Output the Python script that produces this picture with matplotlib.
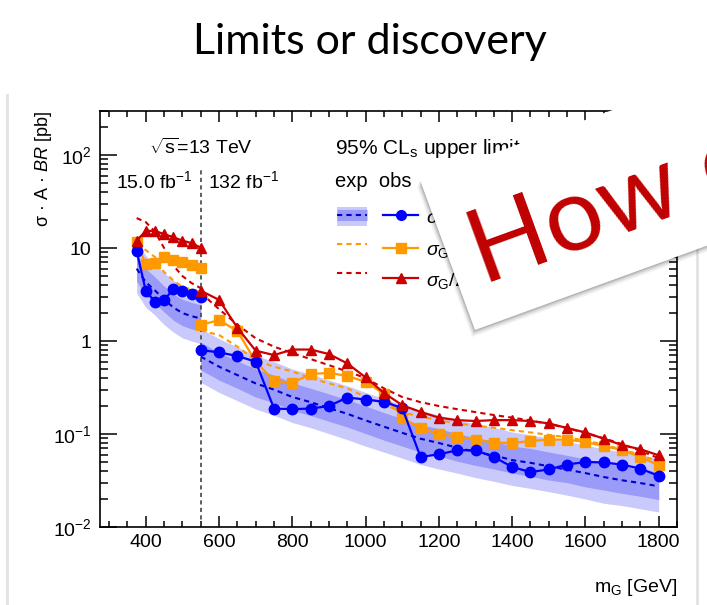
import matplotlib
matplotlib.use('Agg')
import matplotlib.pyplot as plt
from matplotlib.patches import Polygon, Patch
from matplotlib.lines import Line2D
from matplotlib.legend_handler import HandlerTuple
from matplotlib.ticker import FixedLocator, MultipleLocator, LogLocator, FuncFormatter

plt.rcParams['font.family'] = ['Liberation Sans', 'DejaVu Sans']
plt.rcParams['mathtext.fontset'] = 'custom'
plt.rcParams['mathtext.rm'] = 'Liberation Sans'
plt.rcParams['mathtext.it'] = 'Liberation Sans:italic'
plt.rcParams['mathtext.bf'] = 'Liberation Sans:bold'

# ---- data: 15.0 fb-1 region ----
mass_15 = [375, 400, 425, 450, 475, 500, 525, 550]
blue_obs_15 = [9.3, 3.46, 2.65, 2.77, 3.6, 3.46, 3.2, 3.0]
blue_exp_15 = [6.0, 4.3, 3.5, 2.8, 2.3, 2.0, 1.85, 1.75]
band_m2s_15 = [3.3, 2.3, 1.9, 1.5, 1.25, 1.08, 1.0, 0.94]
band_m1s_15 = [4.4, 3.1, 2.55, 2.05, 1.68, 1.46, 1.35, 1.28]
band_p1s_15 = [8.4, 6.0, 4.9, 3.9, 3.2, 2.8, 2.6, 2.45]
band_p2s_15 = [11.5, 8.3, 6.8, 5.4, 4.5, 3.9, 3.6, 3.4]
orange_obs_15 = [11.7, 6.7, 6.9, 8.0, 7.5, 7.05, 6.6, 6.1]
orange_exp_15 = [11.0, 9.5, 8.0, 5.5, 4.5, 3.8, 3.6, 3.4]
red_obs_15 = [12.0, 15.3, 15.3, 14.1, 13.1, 12.0, 11.3, 10.1]
red_exp_15 = [21.0, 19.0, 15.0, 10.0, 6.5, 5.0, 4.2, 3.7]

# ---- data: 132 fb-1 region ----
mass_132 = [550, 600, 650, 700, 750, 800, 850, 900, 950, 1000, 1050, 1100, 1150,
            1200, 1250, 1300, 1350, 1400, 1450, 1500, 1550, 1600, 1650, 1700, 1750, 1800]
blue_obs_132 = [0.80, 0.755, 0.69, 0.60, 0.188, 0.185, 0.188, 0.20, 0.247, 0.235, 0.222, 0.19,
                0.0567, 0.0605, 0.0669, 0.0669, 0.0567, 0.0442, 0.039, 0.0416, 0.047, 0.050,
                0.0495, 0.0468, 0.0425, 0.0355]
blue_exp_132 = [0.68, 0.53, 0.43, 0.35, 0.30, 0.25, 0.22, 0.19, 0.165, 0.14, 0.12, 0.103,
                0.089, 0.080, 0.0714, 0.064, 0.059, 0.0524, 0.049, 0.045, 0.0414, 0.038,
                0.0345, 0.0318, 0.0297, 0.0274]
band_m2s_132 = [0.36, 0.28, 0.228, 0.186, 0.159, 0.133, 0.117, 0.101, 0.087, 0.074, 0.064, 0.055,
                0.047, 0.042, 0.038, 0.034, 0.031, 0.028, 0.026, 0.024, 0.022, 0.020, 0.018,
                0.017, 0.0157, 0.0145]
band_m1s_132 = [0.49, 0.38, 0.31, 0.25, 0.216, 0.18, 0.158, 0.137, 0.119, 0.101, 0.086, 0.074,
                0.064, 0.058, 0.051, 0.046, 0.042, 0.038, 0.035, 0.032, 0.030, 0.027, 0.025,
                0.023, 0.0214, 0.0197]
band_p1s_132 = [0.97, 0.75, 0.61, 0.50, 0.43, 0.355, 0.31, 0.27, 0.234, 0.20, 0.17, 0.146,
                0.126, 0.114, 0.101, 0.091, 0.084, 0.074, 0.070, 0.064, 0.059, 0.054, 0.049,
                0.045, 0.042, 0.039]
band_p2s_132 = [1.36, 1.06, 0.86, 0.70, 0.60, 0.50, 0.44, 0.38, 0.33, 0.28, 0.24, 0.206,
                0.178, 0.16, 0.143, 0.128, 0.118, 0.105, 0.098, 0.090, 0.083, 0.076, 0.069,
                0.064, 0.059, 0.055]
orange_obs_132 = [1.49, 1.68, 1.28, 0.60, 0.373, 0.356, 0.44, 0.456, 0.42, 0.365, 0.27, 0.15,
                  0.115, 0.10, 0.094, 0.087, 0.081, 0.08, 0.084, 0.087, 0.087, 0.082, 0.0745,
                  0.067, 0.0567, 0.046]
orange_exp_132 = [1.3, 1.16, 0.87, 0.62, 0.53, 0.47, 0.40, 0.35, 0.31, 0.25, 0.21, 0.17,
                  0.155, 0.14, 0.13, 0.123, 0.117, 0.11, 0.104, 0.098, 0.092, 0.085, 0.077,
                  0.068, 0.06, 0.05]
red_obs_132 = [3.48, 2.77, 1.39, 0.787, 0.706, 0.81, 0.81, 0.724, 0.575, 0.406, 0.277, 0.204,
               0.173, 0.15, 0.141, 0.138, 0.141, 0.141, 0.138, 0.13, 0.116, 0.104, 0.089,
               0.076, 0.0686, 0.059]
red_exp_132 = [3.3, 2.2, 1.5, 1.07, 0.87, 0.74, 0.64, 0.55, 0.47, 0.40, 0.31, 0.25,
               0.22, 0.20, 0.185, 0.172, 0.16, 0.15, 0.14, 0.128, 0.116, 0.102, 0.09,
               0.078, 0.066, 0.055]

lumi_boundary = 550
legend_labels = [r'$\sigma_{\rm G}\times$BR', r'$\sigma_{\rm G}$ ($k/\bar{M}_{\rm Pl}$=1)',
                 r'$\sigma_{\rm G}$/2']

BLUE = '#0000ff'
BLUE_EXP = '#0000cc'
ORANGE = '#ff9900'
RED = '#cc0000'
DARK_BAND = '#9a9af8'
LIGHT_BAND = '#c9c9fc'
DASH = (2.5, 2)

fig = plt.figure(figsize=(7.07, 6.05), dpi=100)

# slide title
fig.text(370 / 707, 1 - 54 / 605, 'Limits or discovery', ha='center', va='baseline',
         fontsize=31, family=['Lato', 'DejaVu Sans'], color='black')

# picture frame edges
fig.add_artist(Line2D([7 / 707, 7 / 707], [0, 1 - 95 / 605], transform=fig.transFigure,
                      color='#e2e2e2', lw=2))
fig.add_artist(Line2D([697 / 707, 697 / 707], [0, 1 - 95 / 605], transform=fig.transFigure,
                      color='#e2e2e2', lw=2))

ax = fig.add_axes([100 / 707, 1 - 527 / 605, 577 / 707, 416.3 / 605])
ax.set_yscale('log')

for mass, m2, m1, p1, p2, ex, bo, oo, oe, ro, re in [
        (mass_15, band_m2s_15, band_m1s_15, band_p1s_15, band_p2s_15, blue_exp_15,
         blue_obs_15, orange_obs_15, orange_exp_15, red_obs_15, red_exp_15),
        (mass_132, band_m2s_132, band_m1s_132, band_p1s_132, band_p2s_132, blue_exp_132,
         blue_obs_132, orange_obs_132, orange_exp_132, red_obs_132, red_exp_132)]:
    ax.fill_between(mass, m2, p2, color=LIGHT_BAND, lw=0, zorder=1)
    ax.fill_between(mass, m1, p1, color=DARK_BAND, lw=0, zorder=1.1)
    ax.plot(mass, ex, color=BLUE_EXP, lw=1.5, dashes=DASH, zorder=2)
    ax.plot(mass, oe, color=ORANGE, lw=1.5, dashes=DASH, zorder=2)
    ax.plot(mass, re, color=RED, lw=1.5, dashes=DASH, zorder=2)
    ax.plot(mass, oo, color=ORANGE, lw=1.6, marker='s', ms=7, zorder=3)
    ax.plot(mass, ro, color=RED, lw=1.6, marker='^', ms=7.5, zorder=3.2)
    ax.plot(mass, bo, color=BLUE, lw=1.6, marker='o', ms=7.5, zorder=3.1)

ax.axvline(lumi_boundary, ymax=0.862, color='#444444', lw=1.2, dashes=(2.5, 2), zorder=2.5)

ax.set_xlim(275, 1850)
ax.set_ylim(0.01, 300)

ax.xaxis.set_major_locator(MultipleLocator(200))
ax.xaxis.set_minor_locator(MultipleLocator(50))
ax.yaxis.set_major_locator(FixedLocator([0.01, 0.1, 1, 10, 100]))
ax.yaxis.set_minor_locator(LogLocator(base=10, subs=range(2, 10)))
ylab = {0.01: r'$10^{-2}$', 0.1: r'$10^{-1}$', 1: '1', 10: '10', 100: r'$10^{2}$'}
ax.yaxis.set_major_formatter(FuncFormatter(lambda v, p: ylab.get(round(v, 3), '')))
ax.yaxis.set_minor_formatter(FuncFormatter(lambda v, p: ''))

ax.tick_params(which='both', direction='in', top=True, right=True, labelsize=14, width=1.1)
ax.tick_params(axis='y', which='major', length=12, pad=6)
ax.tick_params(axis='y', which='minor', length=6)
ax.tick_params(axis='x', which='major', length=8, pad=5)
ax.tick_params(axis='x', which='minor', length=4)
for s in ax.spines.values():
    s.set_linewidth(1.2)

ax.set_xlabel(r'm$_{\rm G}$ [GeV]', fontsize=14, loc='right', labelpad=19)
ax.set_ylabel(r'σ · A · $\mathit{BR}$ [pb]', fontsize=13, loc='top')
ax.yaxis.set_label_coords(-0.08, 1.0)

# header texts
ax.text(0.085, 0.91, r'$\sqrt{\rm s}$=13 TeV', transform=ax.transAxes, fontsize=14, va='center')
ax.text(0.027, 0.83, r'15.0 fb$^{-1}$', transform=ax.transAxes, fontsize=14, va='center')
ax.text(0.188, 0.83, r'132 fb$^{-1}$', transform=ax.transAxes, fontsize=14, va='center')
ax.text(0.407, 0.91, r'95% CL$_{\rm s}$ upper limit', transform=ax.transAxes, fontsize=15,
        va='center')
ax.text(0.407, 0.83, 'exp  obs', transform=ax.transAxes, fontsize=14.5, va='center')

# legend: expected keys
exp_handles = [
    (Patch(facecolor=LIGHT_BAND, edgecolor='none'),
     Line2D([], [], color=DARK_BAND, lw=8, solid_capstyle='butt'),
     Line2D([], [], color=BLUE_EXP, lw=1.5, dashes=DASH)),
    Line2D([], [], color=ORANGE, lw=1.5, dashes=DASH),
    Line2D([], [], color=RED, lw=1.5, dashes=DASH),
]
leg1 = ax.legend(exp_handles, ['', '', ''], handler_map={tuple: HandlerTuple(ndivide=1, pad=0)},
                 loc='upper left', bbox_to_anchor=(0.411, 0.768), frameon=False, fontsize=14,
                 handlelength=1.55, handleheight=1.1, labelspacing=0.45, borderpad=0,
                 borderaxespad=0, handletextpad=0)
ax.add_artist(leg1)
obs_handles = [
    Line2D([], [], color=BLUE, lw=1.6, marker='o', ms=7),
    Line2D([], [], color=ORANGE, lw=1.6, marker='s', ms=7),
    Line2D([], [], color=RED, lw=1.6, marker='^', ms=7),
]
leg2 = ax.legend(obs_handles, legend_labels, loc='upper left', bbox_to_anchor=(0.4905, 0.768),
                 frameon=False, fontsize=14, handlelength=1.8, handleheight=1.1,
                 labelspacing=0.45, borderpad=0, borderaxespad=0, handletextpad=0.4)

# overlaid slide card "How c..."
W, H = 707.0, 605.0
def fpt(x, y):
    return (x / W, 1 - y / H)

card = [(420, 180), (984, -25), (1039, 125), (475, 330)]
for k, a in [(7, 0.05), (5, 0.07), (3, 0.09), (1.5, 0.12)]:
    sh = [fpt(x - 0.4 * k, y + k) for x, y in card]
    fig.add_artist(Polygon(sh, closed=True, transform=fig.transFigure, facecolor='black',
                           edgecolor='none', alpha=a, zorder=9))
fig.add_artist(Polygon([fpt(x, y) for x, y in card], closed=True, transform=fig.transFigure,
                       facecolor='white', edgecolor='none', zorder=10))
fig.text(*fpt(483, 285), 'How can', rotation=20, rotation_mode='anchor', ha='left',
         va='baseline', fontsize=74, color='#c00000', family=['Lato', 'DejaVu Sans'], zorder=11)

fig.savefig('out.png', dpi=100, facecolor='white')
